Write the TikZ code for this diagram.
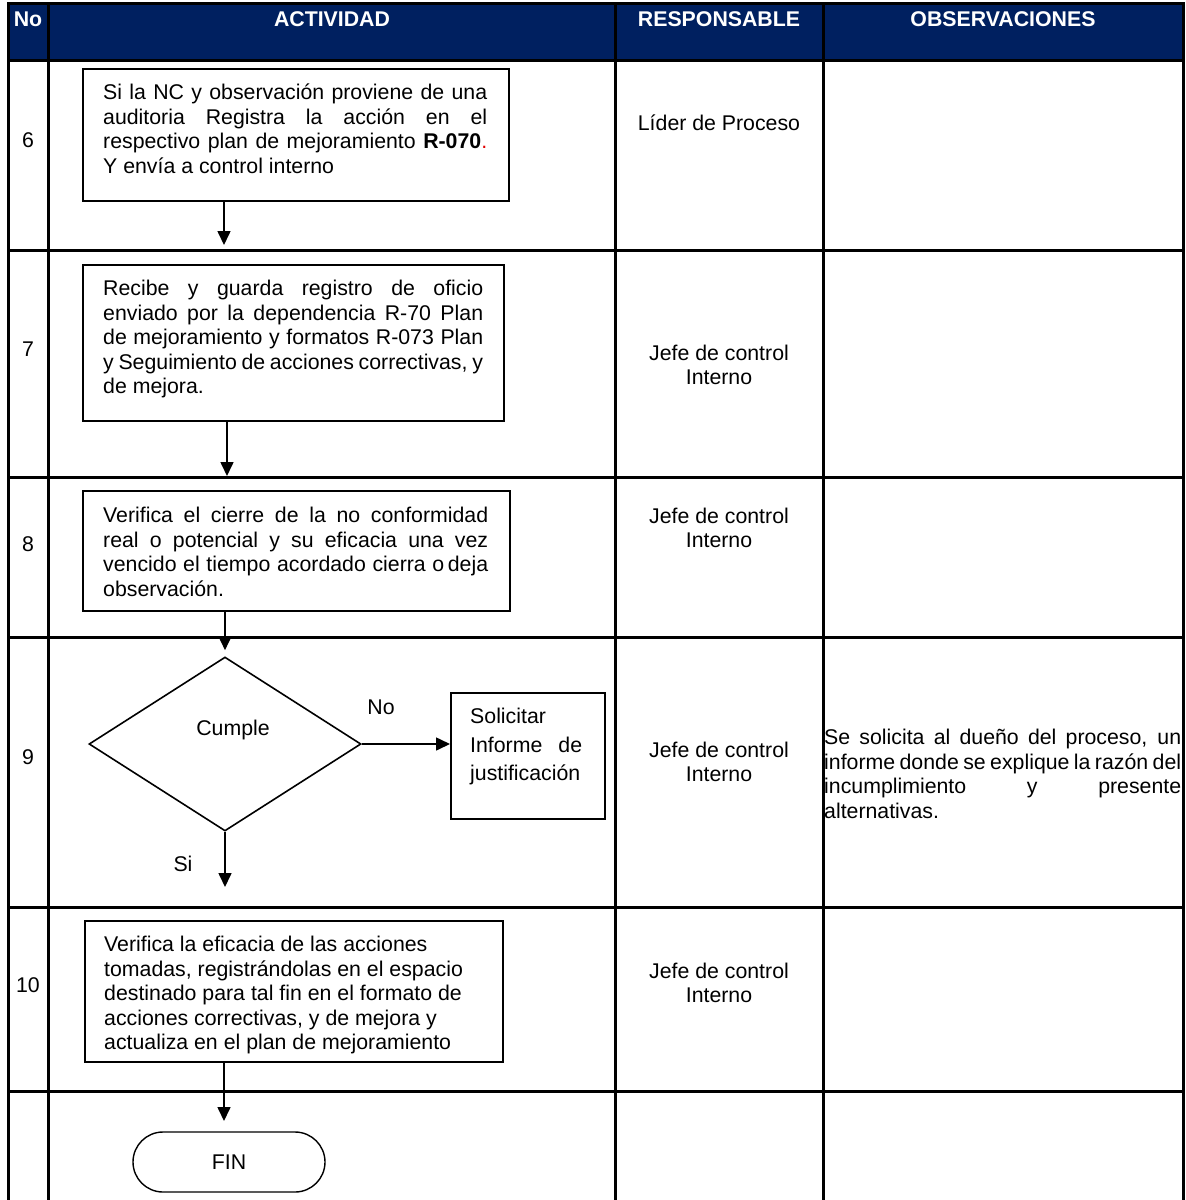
\documentclass[tikz,border=0pt]{standalone}
\usepackage{fontspec}
\setmainfont{Liberation Sans}
\usepackage{xcolor}
\usepackage{tikz}
\usetikzlibrary{arrows.meta,positioning,shapes.geometric}
\definecolor{navyx}{HTML}{002060}
\definecolor{redx}{HTML}{E00000}
\hyphenpenalty=10000
\exhyphenpenalty=10000
\newcommand{\bodyfont}{\fontsize{21.3}{24.5}\selectfont}
\tikzset{
  tb/.style={line width=3pt,black},
  hd/.style={font=\bodyfont\bfseries,text=white,inner sep=0pt,anchor=base},
  box/.style={draw,line width=1.6pt,anchor=north west,inner sep=0pt},
  txt/.style={font=\bodyfont,inner sep=0pt,anchor=north west,align=justify},
  rs/.style={font=\bodyfont,inner sep=0pt,align=center},
  lb/.style={font=\bodyfont,inner sep=0pt},
  dec/.style={draw,diamond,line width=1.6pt,inner sep=0pt,minimum width=272pt,minimum height=174pt},
  term/.style={draw,line width=1.4pt,rounded corners=30pt,minimum width=192pt,minimum height=60pt,font=\bodyfont},
  ar/.style={-{Triangle[length=14pt,width=13pt]},line width=1.6pt}
}

\begin{document}
\begin{tikzpicture}[x=1pt,y=-1pt]
\useasboundingbox (0,0) rectangle (1186,1200);
% tabla
\fill[navyx] (8,3) rectangle (1183,60);
\foreach \yy in {60,250,477,637,907,1091}{\draw[tb] (8,\yy)--(1183,\yy);}
\foreach \xx in {48,615,823}{\draw[tb] (\xx,3)--(\xx,1200);}
\draw[tb] (8,1200)--(8,3)--(1183,3)--(1183,1200);
\node[hd] (hno) at (28,26) {No};
\node[hd] (hact) at (332,26) {ACTIVIDAD};
\node[hd] (hres) at (719,26) {RESPONSABLE};
\node[hd] (hobs) at (1003,26) {OBSERVACIONES};
\foreach \nn/\yy in {6/140,7/349,8/544,9/757,10/985}{\node[lb] (n\nn) at (28,\yy) {\nn};}

% actividades
\node[box,minimum width=426pt,minimum height=132pt] (a6) at (82,68) {};
\node[txt,text width=384pt] (t6) at (103,84) {Si la NC y observación proviene de una\linebreak auditoria Registra la acción en el\linebreak respectivo plan de mejoramiento \textbf{R-070}\textcolor{redx}{.}\linebreak Y envía a control interno};
\node[box,minimum width=421pt,minimum height=156pt] (a7) at (82,264) {};
\node[txt,text width=380pt] (t7) at (103,280) {Recibe y guarda registro de oficio\linebreak enviado por la dependencia R-70 Plan\linebreak de mejoramiento y formatos R-073 Plan\linebreak y Seguimiento de acciones correctivas, y\linebreak de mejora.};
\node[box,minimum width=427pt,minimum height=120pt] (a8) at (82,490) {};
\node[txt,text width=385pt] (t8) at (103,507) {Verifica el cierre de la no conformidad\linebreak real o potencial y su eficacia una vez\linebreak vencido el tiempo acordado cierra o\,deja\linebreak observación.};
\node[dec] (d9) at (225,744) {};
\node[lb] (c9) at (233,730) {Cumple};
\node[box,minimum width=154pt,minimum height=126pt] (s9) at (450,692) {};
\node[txt,text width=112pt,font=\fontsize{21.3}{28.5}\selectfont] (t9) at (470,708) {Solicitar\\ Informe de\linebreak justificación};
\node[lb] (no9) at (381,707) {No};
\node[lb] (si9) at (183,864) {Si};
\node[box,minimum width=418pt,minimum height=141pt] (a10) at (84,920) {};
\node[txt,align=left] (t10) at (104,936) {Verifica la eficacia de las acciones\\tomadas, registrándolas en el espacio\\destinado para tal fin en el formato de\\acciones correctivas, y de mejora y\\actualiza en el plan de mejoramiento};
\node[term] (fin) at (229,1162) {FIN};

% flechas
\coordinate (e6) at (224,245);
\coordinate (e7) at (227,476);
\coordinate (e9) at (225,887);
\coordinate (e10) at (224,1121);
\draw[ar] (a6.south -| e6)--(e6);
\draw[ar] (a7.south -| e7)--(e7);
\draw[ar,shorten >=6pt] (a8.south -| d9.north)--(d9.north);
\draw[ar] (d9.east)--(d9.east -| s9.west);
\draw[ar] (d9.south)--(e9);
\draw[ar] (a10.south -| e10)--(e10);

% responsables
\node[rs] (r6) at (719,123) {Líder de Proceso};
\node[rs] (r7) at (719,365) {Jefe de control\\Interno};
\node[rs] (r8) at (719,528) {Jefe de control\\Interno};
\node[rs] (r9) at (719,762) {Jefe de control\\Interno};
\node[rs] (r10) at (719,983) {Jefe de control\\Interno};

% observaciones
\node[txt,text width=357pt] (o9) at (824,729) {Se solicita al dueño del proceso, un\linebreak informe donde se explique la razón del\linebreak incumplimiento y presente\linebreak alternativas.};
\end{tikzpicture}
\end{document}
